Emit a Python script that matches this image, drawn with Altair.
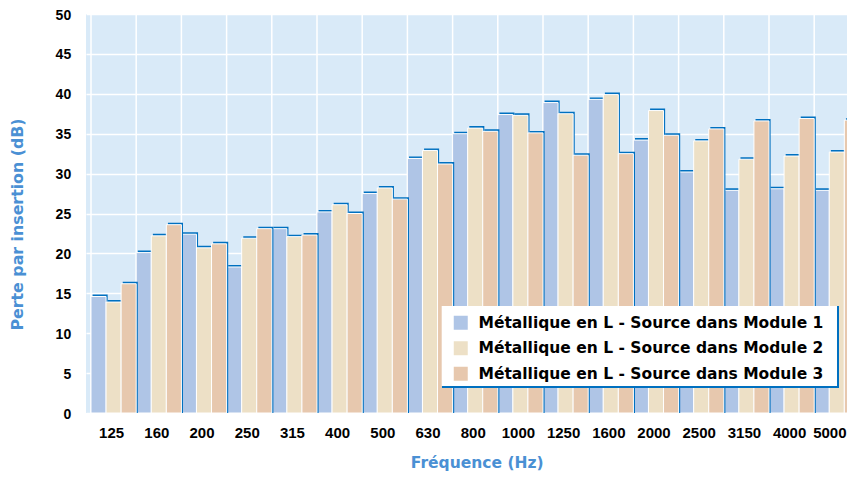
import altair as alt
import pandas as pd

freqs = ["125", "160", "200", "250", "315", "400", "500", "630", "800", "1000",
         "1250", "1600", "2000", "2500", "3150", "4000", "5000"]
series = ["Métallique en L - Source dans Module 1",
          "Métallique en L - Source dans Module 2",
          "Métallique en L - Source dans Module 3"]
module1 = [14.6, 20.1, 22.4, 18.3, 23.1, 25.2, 27.5, 31.9, 35.0, 37.4, 38.9, 39.3, 34.2, 30.2, 27.9, 28.1, 27.9]
module2 = [13.9, 22.2, 20.7, 21.9, 22.1, 26.1, 28.2, 32.9, 35.7, 37.3, 37.5, 39.9, 37.9, 34.1, 31.8, 32.2, 32.7]
module3 = [16.2, 23.6, 21.2, 23.1, 22.3, 25.0, 26.8, 31.2, 35.3, 35.1, 32.3, 32.5, 34.8, 35.6, 36.6, 36.9, 36.7]
colors = ["#AFC5E6", "#EDE0C6", "#E7C8AE"]
y_ticks = list(range(0, 55, 5))

rows = []
for s, vals in enumerate([module1, module2, module3]):
    for i, v in enumerate(vals):
        rows.append({"i": i, "s": s, "serie": series[s], "freq": freqs[i], "v": v})
df = pd.DataFrame(rows)
grid_df = pd.DataFrame({"g": list(range(len(freqs)))})

W, H = 761, 399
step = 45.2
x0 = -5.0 / step
x1 = x0 + W / step
dx = 1.6 / step
dy = 2.0 * 50.0 / H

title_color = "#4A90D4"
dark = "#0070C0"

xscale = alt.Scale(domain=[x0, x1], nice=False, zero=False)
yscale = alt.Scale(domain=[0, 50], nice=False, zero=True)

# label anchor positions: group centres, last one right-aligned at the plot edge
label_vals = [i + 0.445 for i in range(len(freqs) - 1)] + [x0 + (W - 1) / step]

label_js = "[" + ",".join("'%s'" % f for f in freqs) + "]"
xaxis = alt.Axis(
    values=label_vals,
    labelExpr=label_js + "[floor(datum.value)]",
    labelAlign={"condition": {"test": "datum.value > 16", "value": "right"}, "value": "center"},
    grid=False, ticks=False, domain=False,
    labelFont="Liberation Sans", labelFontSize=15, labelFontWeight="bold",
    labelColor="black", labelPadding=12.5, labelAngle=0, labelFlush=False,
    labelOverlap=False,
    title="Fréquence (Hz)", titleFont="DejaVu Sans", titleFontSize=15.5,
    titleFontWeight="bold", titleColor=title_color,
    titleX=390.7, titleY=54.5, titleAlign="center", titleBaseline="alphabetic",
)
yaxis = alt.Axis(
    values=y_ticks, grid=True, gridColor="white", gridWidth=1.5,
    ticks=False, domain=False,
    labelFont="Liberation Sans", labelFontSize=14, labelFontWeight="bold",
    labelColor="black", labelPadding=15.3, labelOffset=1,
    title="Perte par insertion (dB)", titleFont="DejaVu Sans", titleFontSize=15.8,
    titleFontWeight="bold", titleColor=title_color,
    titleX=-64, titleY=210, titleAngle=270, titleAlign="center",
    titleBaseline="alphabetic",
)

color_enc = alt.Color(
    "serie:N", title=None,
    scale=alt.Scale(domain=series, range=colors),
    legend=alt.Legend(
        orient="none", legendX=367, legendY=301, padding=0,
        symbolType="square", symbolSize=196, symbolStrokeWidth=0,
        labelFont="DejaVu Sans", labelFontSize=15.5, labelFontWeight="bold",
        labelColor="black", rowPadding=8.5, labelOffset=10, labelLimit=600,
    ),
)

grid = alt.Chart(grid_df).mark_rule(color="white", strokeWidth=1.5).encode(
    x=alt.X("g:Q", scale=xscale, axis=xaxis),
    y=alt.value(0), y2=alt.value(H),
)

base = alt.Chart(df).transform_calculate(
    xa="datum.i + datum.s / 3",
    xb="datum.i + (datum.s + 1) / 3",
    xs="datum.i + datum.s / 3 + %f" % dx,
    xs2="datum.i + (datum.s + 1) / 3 + %f" % dx,
    ys="datum.v + %f" % dy,
    b0="0",
)

layers = [grid]
for s in range(3):
    sub = base.transform_filter("datum.s == %d" % s)
    shadow = sub.mark_rect(color=dark, clip=True).encode(
        x=alt.X("xs:Q", scale=xscale, axis=xaxis),
        x2="xs2:Q",
        y=alt.Y("ys:Q", scale=yscale, axis=yaxis),
        y2="b0:Q",
    )
    bars = sub.mark_rect(stroke="white", strokeWidth=1, clip=True).encode(
        x=alt.X("xa:Q", scale=xscale, axis=xaxis),
        x2="xb:Q",
        y=alt.Y("v:Q", scale=yscale, axis=yaxis),
        y2="b0:Q",
        color=color_enc,
    )
    layers += [shadow, bars]

# legend box (white panel with a thin blue shadow on the right/bottom)
box = pd.DataFrame({"k": [0]})
legend_shadow = alt.Chart(box).mark_rect(color=dark).encode(
    x=alt.value(356), x2=alt.value(753), y=alt.value(292), y2=alt.value(374)
)
legend_panel = alt.Chart(box).mark_rect(color="white").encode(
    x=alt.value(355.7), x2=alt.value(751), y=alt.value(292), y2=alt.value(372)
)
layers += [legend_shadow, legend_panel]

chart = alt.layer(*layers).properties(
    width=W, height=H,
    padding={"left": 78, "top": 6, "right": 0, "bottom": 58},
    autosize=alt.AutoSizeParams(type="none"),
).configure_view(fill="#D9EAF8", strokeWidth=0)

chart.save("out.html", embed_options={"renderer": "svg", "actions": False})
